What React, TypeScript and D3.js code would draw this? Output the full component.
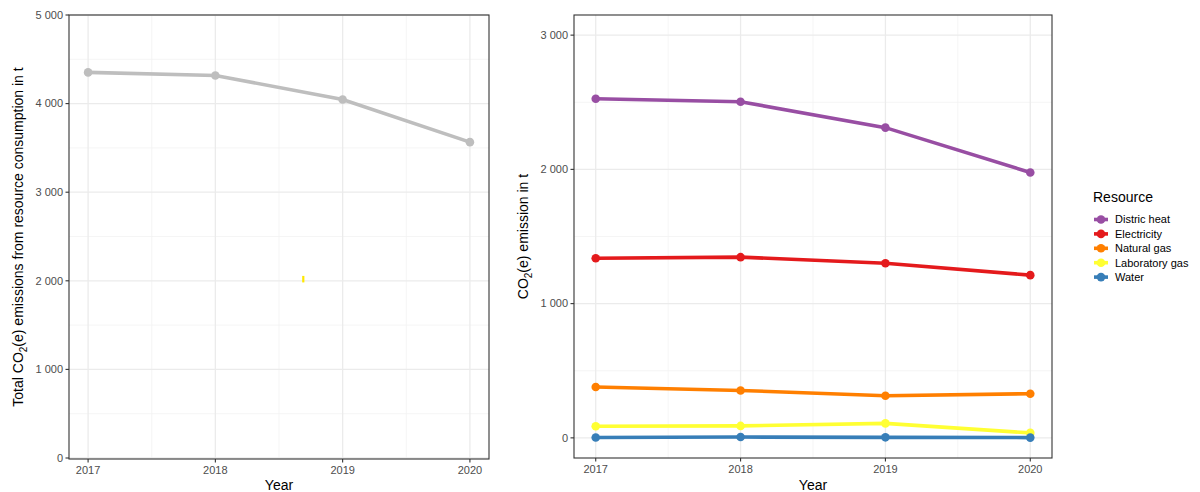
import * as d3 from "d3";

const years = [2017, 2018, 2019, 2020];
const totalValues = [4352, 4318, 4047, 3565];
// stray mark visible in the left panel of the reference
const strayMark = { year: 2018.69, value: 2010 };

const resources = ["Distric heat", "Electricity", "Natural gas", "Laboratory gas", "Water"];
const districHeat = [2526, 2504, 2311, 1977];
const electricity = [1338, 1346, 1301, 1212];
const naturalGas = [379, 353, 314, 329];
const laboratoryGas = [86, 89, 108, 37];
const water = [3, 6, 4, 2];
const resourceColors = ["#984EA3", "#E41A1C", "#FF7F00", "#FFFF33", "#377EB8"];

const leftTicks = [0, 1000, 2000, 3000, 4000, 5000];
const leftMinor = [500, 1500, 2500, 3500, 4500];
const rightTicks = [0, 1000, 2000, 3000];
const rightMinor = [500, 1500, 2500];
const minorYears = [2017.5, 2018.5, 2019.5];

const fmt = (v: number) => (v >= 1000 ? d3.format(",")(v).replace(",", " ") : String(v));

const FONT = "Liberation Sans, Arial, sans-serif";
const TICK_COL = "#4D4D4D";
const BORDER = "#333333";

const Panel = ({ x0, x1, y0, y1, yScale, xScale, ticks, minor }: any) => (
  <g>
    {minor.map((v: number) => (
      <line key={"my" + v} x1={x0} x2={x1} y1={yScale(v)} y2={yScale(v)} stroke="#F3F3F3" strokeWidth={0.8} />
    ))}
    {minorYears.map((v) => (
      <line key={"mx" + v} x1={xScale(v)} x2={xScale(v)} y1={y0} y2={y1} stroke="#F3F3F3" strokeWidth={0.8} />
    ))}
    {ticks.map((v: number) => (
      <line key={"y" + v} x1={x0} x2={x1} y1={yScale(v)} y2={yScale(v)} stroke="#EBEBEB" strokeWidth={1.3} />
    ))}
    {years.map((v) => (
      <line key={"x" + v} x1={xScale(v)} x2={xScale(v)} y1={y0} y2={y1} stroke="#EBEBEB" strokeWidth={1.3} />
    ))}
  </g>
);

const Axes = ({ x0, x1, y0, y1, yScale, xScale, ticks }: any) => (
  <g fontFamily={FONT}>
    <rect x={x0} y={y0} width={x1 - x0} height={y1 - y0} fill="none" stroke={BORDER} strokeWidth={1.1} />
    {ticks.map((v: number) => (
      <g key={"yt" + v}>
        <line x1={x0 - 3.5} x2={x0} y1={yScale(v)} y2={yScale(v)} stroke={BORDER} strokeWidth={1.1} />
        <text x={x0 - 6} y={yScale(v)} dy="0.35em" textAnchor="end" fontSize={11} fill={TICK_COL}>
          {fmt(v)}
        </text>
      </g>
    ))}
    {years.map((v) => (
      <g key={"xt" + v}>
        <line x1={xScale(v)} x2={xScale(v)} y1={y1} y2={y1 + 3.5} stroke={BORDER} strokeWidth={1.1} />
        <text x={xScale(v)} y={y1 + 15} textAnchor="middle" fontSize={11} fill={TICK_COL}>
          {v}
        </text>
      </g>
    ))}
    <text x={(x0 + x1) / 2} y={490} textAnchor="middle" fontSize={14} fill="#000">
      Year
    </text>
  </g>
);

export default function App() {
  // left panel
  const L = { x0: 69, x1: 489, y0: 15, y1: 459 };
  const xL = d3.scaleLinear().domain([2017 - 0.15, 2020 + 0.15]).range([L.x0, L.x1]);
  const yL = d3.scaleLinear().domain([0, 5000]).range([L.y1 - 1, L.y0]);

  // right panel
  const R = { x0: 574, x1: 1052, y0: 15, y1: 458 };
  const xR = d3.scaleLinear().domain([2017 - 0.15, 2020 + 0.15]).range([R.x0, R.x1]);
  const yR = d3.scaleLinear().domain([-150, 3150]).range([R.y1, R.y0]);

  const series = [districHeat, electricity, naturalGas, laboratoryGas, water];

  const lineL = d3
    .line<number>()
    .x((_, i) => xL(years[i]))
    .y((d) => yL(d));
  const lineR = d3
    .line<number>()
    .x((_, i) => xR(years[i]))
    .y((d) => yR(d));

  return (
    <svg width={1200} height={492} style={{ position: "absolute", left: 0, top: 0 }}>
      <rect width={1200} height={492} fill="#fff" />

      <Panel {...L} xScale={xL} yScale={yL} ticks={leftTicks} minor={leftMinor} />
      <path d={lineL(totalValues) || ""} fill="none" stroke="#BEBEBE" strokeWidth={3.6} />
      {totalValues.map((d, i) => (
        <circle key={i} cx={xL(years[i])} cy={yL(d)} r={4.3} fill="#BEBEBE" />
      ))}
      <rect x={xL(strayMark.year) - 1} y={yL(strayMark.value) - 4} width={2.2} height={6.5} fill="#FFE800" />
      <Axes {...L} xScale={xL} yScale={yL} ticks={leftTicks} />
      <text
        transform={`translate(23,${(L.y0 + L.y1) / 2}) rotate(-90)`}
        textAnchor="middle"
        fontSize={14}
        fontFamily={FONT}
        fill="#000"
      >
        Total CO<tspan fontSize={10} dy={4}>2</tspan>
        <tspan dy={-4}>(e) emissions from resource consumption in t</tspan>
      </text>

      <Panel {...R} xScale={xR} yScale={yR} ticks={rightTicks} minor={rightMinor} />
      {series.map((s, k) => (
        <g key={resources[k]}>
          <path d={lineR(s) || ""} fill="none" stroke={resourceColors[k]} strokeWidth={3.6} />
          {s.map((d, i) => (
            <circle key={i} cx={xR(years[i])} cy={yR(d)} r={4.3} fill={resourceColors[k]} />
          ))}
        </g>
      ))}
      <Axes {...R} xScale={xR} yScale={yR} ticks={rightTicks} />
      <text
        transform={`translate(528,${(R.y0 + R.y1) / 2}) rotate(-90)`}
        textAnchor="middle"
        fontSize={14}
        fontFamily={FONT}
        fill="#000"
      >
        CO<tspan fontSize={10} dy={4}>2</tspan>
        <tspan dy={-4}>(e) emission in t</tspan>
      </text>

      <g fontFamily={FONT}>
        <text x={1093} y={202} fontSize={14} fill="#000">
          Resource
        </text>
        {resources.map((r, k) => {
          const y = 219.5 + k * 14.4;
          return (
            <g key={r}>
              <line x1={1094} x2={1108} y1={y} y2={y} stroke={resourceColors[k]} strokeWidth={3.6} />
              <circle cx={1101} cy={y} r={4.3} fill={resourceColors[k]} />
              <text x={1115} y={y} dy="0.35em" fontSize={11} fill="#000">
                {r}
              </text>
            </g>
          );
        })}
      </g>
    </svg>
  );
}
